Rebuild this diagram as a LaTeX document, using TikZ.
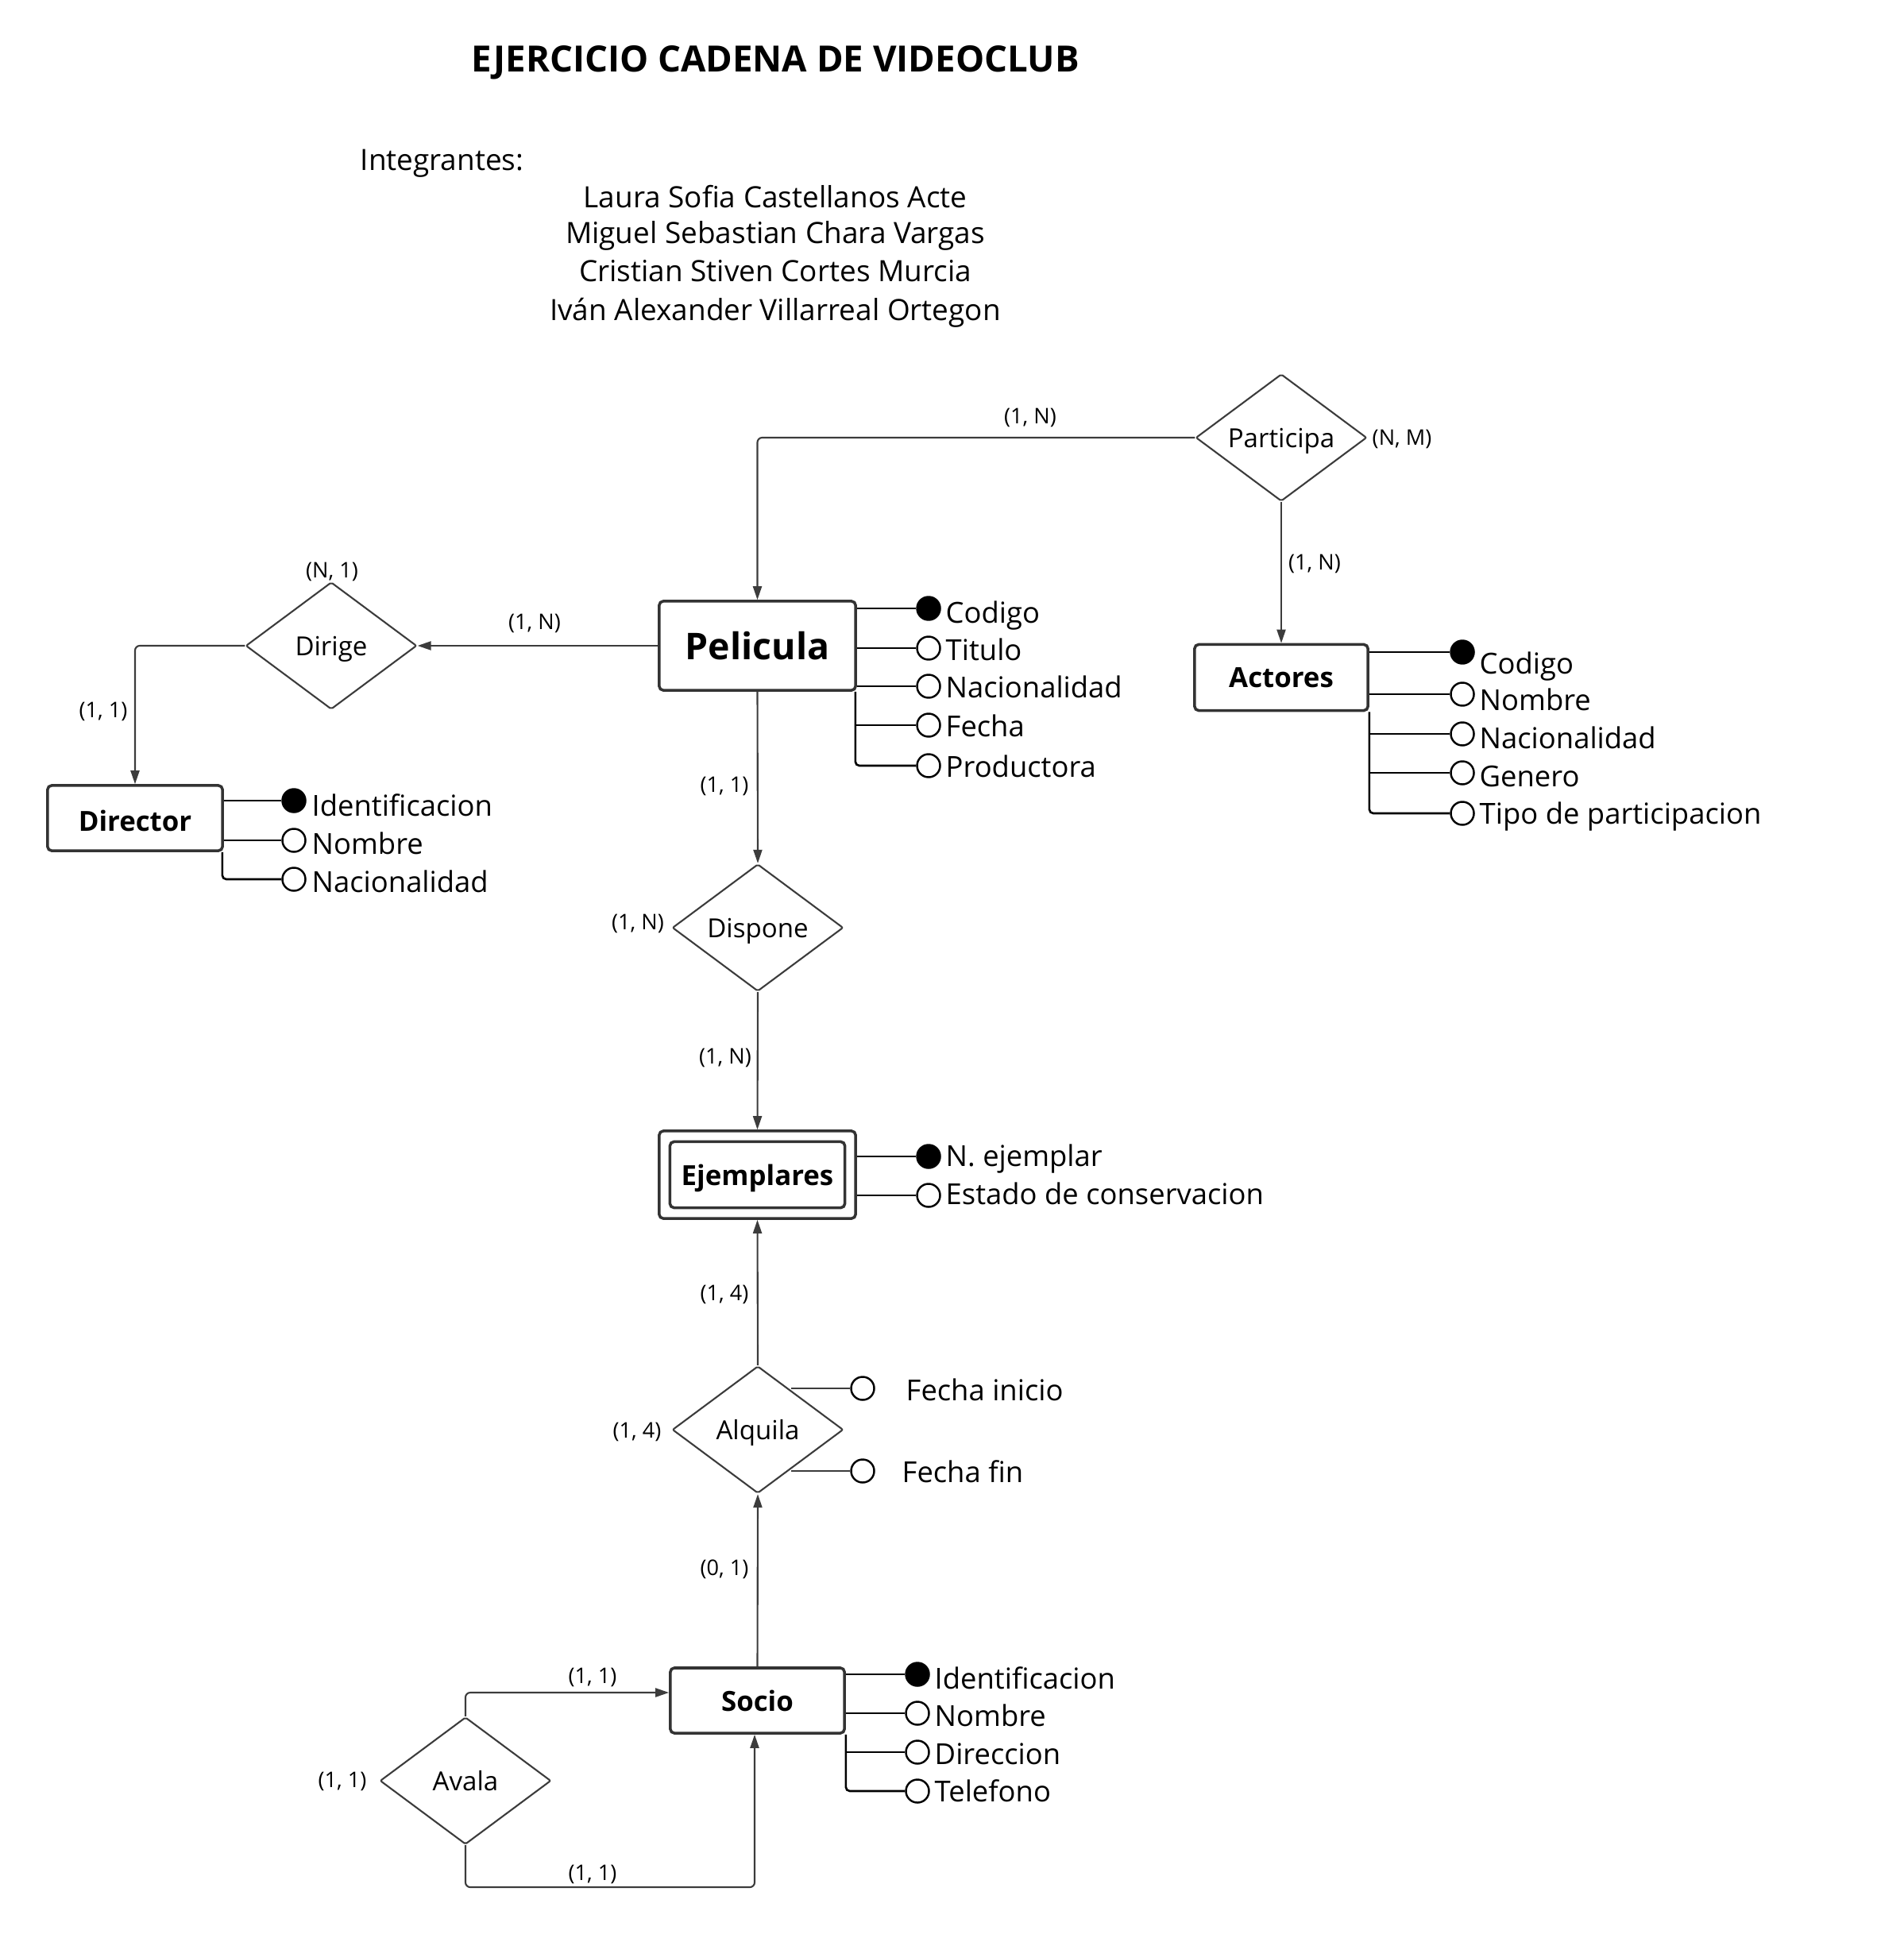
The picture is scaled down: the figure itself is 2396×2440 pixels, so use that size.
\documentclass[tikz,border=0pt]{standalone}
\usepackage{fontspec}
\setmainfont{Open Sans}
\usetikzlibrary{arrows.meta,shapes.geometric,calc}
\definecolor{ln}{HTML}{3C3C3C}
\definecolor{bx}{HTML}{333333}
\begin{document}
\begin{tikzpicture}[x=0.01cm,y=-0.01cm,
  ent/.style={draw=bx,line width=1pt,rounded corners=0.05cm,fill=white,font=\bfseries\fontsize{9.9pt}{12pt}\selectfont,inner sep=0pt,text depth=0pt},
  rel/.style={draw=ln,line width=0.6pt,shape=diamond,minimum width=2.15cm,minimum height=1.6cm,inner sep=0pt,font=\fontsize{9.4pt}{11pt}\selectfont,rounded corners=0.02cm,text depth=0pt},
  conn/.style={draw=ln,line width=0.6pt,rounded corners=0.06cm,-{Triangle[length=0.17cm,width=0.11cm]}},
  card/.style={font=\fontsize{7.7pt}{9pt}\selectfont,inner sep=0pt,text=black},
  attrtxt/.style={anchor=west,inner sep=0pt,font=\fontsize{10.35pt}{12pt}\selectfont,text height=7.5pt,text depth=0pt},
  key/.style={circle,draw=black,fill=black,line width=0.7pt,minimum size=0.29cm,inner sep=0pt},
  opt/.style={circle,draw=black,fill=white,line width=0.7pt,minimum size=0.29cm,inner sep=0pt},
  aline/.style={draw=black,line width=0.75pt},
  alinec/.style={draw=black,line width=0.75pt,rounded corners=0.05cm},
  plain/.style={inner sep=0pt,font=\fontsize{10.5pt}{12pt}\selectfont}
]
\useasboundingbox (0,0) rectangle (2396,2440);

% header
\node[inner sep=0pt,font=\bfseries\fontsize{12.95pt}{15pt}\selectfont] (title) at (976,79) {EJERCICIO CADENA DE VIDEOCLUB};
\node[plain,anchor=west] (integ) at (453,206) {Integrantes:};
\node[plain] (m1) at (976,248) {Laura Sofia Castellanos Acte};
\node[plain] (m2) at (976,297) {Miguel Sebastian Chara Vargas};
\node[plain] (m3) at (976,341) {Cristian Stiven Cortes Murcia};
\node[plain] (m4) at (976,394) {Iván Alexander Villarreal Ortegon};

% entities
\node[ent,minimum width=2.47cm,minimum height=1.12cm,font=\bfseries\fontsize{13.2pt}{15pt}\selectfont,text depth=] (pel) at (953.5,813) {Pelicula};
\node[ent,minimum width=2.18cm,minimum height=0.83cm] (act) at (1613,853) {Actores};
\node[ent,minimum width=2.20cm,minimum height=0.82cm] (dir) at (170,1030) {};
\node[inner sep=0pt,font=\bfseries\fontsize{9.9pt}{12pt}\selectfont] (dirt) at (170,1033) {Director};
\node[ent,minimum width=2.47cm,minimum height=1.10cm] (eje) at (953.5,1479) {};
\node[ent,minimum width=2.20cm,minimum height=0.83cm] (ejei) at (953.5,1479) {Ejemplares};
\node[ent,minimum width=2.19cm,minimum height=0.82cm] (soc) at (953.5,2141) {Socio};

% relationships
\node[rel] (par) at (1613,551) {Participa};
\node[rel] (dirg) at (417,813) {Dirige};
\node[rel] (disp) at (954,1168) {Dispone};
\node[rel] (alq) at (954,1800) {Alquila};
\node[rel] (ava) at (586,2242) {Avala};

% connectors
\draw[conn] (par.west) -| (pel.north);
\draw[conn] (par.south) -- (act.north);
\draw[conn] (pel.west) -- (dirg.east);
\draw[conn] (dirg.west) -| (dir.north);
\draw[conn] (pel.south) -- (disp.north);
\draw[conn] (disp.south) -- (eje.north);
\draw[conn] (alq.north) -- (eje.south);
\draw[conn] (soc.north) -- (alq.south);
\coordinate (avaT) at (587,2131);
\coordinate (avaB) at (950,2376);
\draw[conn] (ava.north) |- (soc.west |- avaT);
\draw[conn] (ava.south) |- (avaB) -- (avaB |- soc.south);

% cardinalities
\node[card] (c1) at (1297,526) {(1, N)};
\node[card] (c2) at (1765,553) {(N, M)};
\node[card] (c3) at (1655,710) {(1, N)};
\node[card] (c4) at (418,720) {(N, 1)};
\node[card] (c5) at (673,785) {(1, N)};
\node[card] (c6) at (130,896) {(1, 1)};
\node[card] (c7) at (912,990) {(1, 1)};
\node[card] (c8) at (803,1163) {(1, N)};
\node[card] (c9) at (913,1332) {(1, N)};
\node[card] (c10) at (912,1630) {(1, 4)};
\node[card] (c11) at (802,1803) {(1, 4)};
\node[card] (c12) at (912,1976) {(0, 1)};
\node[card] (c13) at (746,2112) {(1, 1)};
\node[card] (c14) at (431,2243) {(1, 1)};
\node[card] (c15) at (746,2360) {(1, 1)};

% Pelicula attributes
\node[key] (p1) at (1169,766) {};
\node[opt] (p2) at (1169,816) {};
\node[opt] (p3) at (1169,864) {};
\node[opt] (p4) at (1169,913) {};
\node[opt] (p5) at (1169,964) {};
\node[attrtxt] (tp1) at (1190,771) {Codigo};
\node[attrtxt] (tp2) at (1190,818) {Titulo};
\node[attrtxt] (tp3) at (1190,865) {Nacionalidad};
\node[attrtxt] (tp4) at (1190,914) {Fecha};
\node[attrtxt] (tp5) at (1190,965) {Productora};
\draw[aline] (pel.east |- p1) -- (p1.west);
\draw[aline] (pel.east |- p2) -- (p2.west);
\draw[aline] (pel.east |- p3) -- (p3.west);
\coordinate (pv) at ([xshift=-0.02cm]pel.south east);
\draw[aline] (pv |- p4) -- (p4.west);
\draw[alinec] (pv) |- (p5.west);

% Director attributes
\node[key] (d1) at (370,1008) {};
\node[opt] (d2) at (370,1058) {};
\node[opt] (d3) at (370,1107) {};
\node[attrtxt] (td1) at (392,1014) {Identificacion};
\node[attrtxt] (td2) at (392,1062) {Nombre};
\node[attrtxt] (td3) at (392,1110) {Nacionalidad};
\draw[aline] (dir.east |- d1) -- (d1.west);
\draw[aline] (dir.east |- d2) -- (d2.west);
\coordinate (dv) at ([xshift=-0.02cm]dir.south east);
\draw[alinec] (dv) |- (d3.west);

% Actores attributes
\node[key] (r1) at (1841,821) {};
\node[opt] (r2) at (1841,874) {};
\node[opt] (r3) at (1841,924) {};
\node[opt] (r4) at (1841,973) {};
\node[opt] (r5) at (1841,1024) {};
\node[attrtxt] (tr1) at (1862,835) {Codigo};
\node[attrtxt] (tr2) at (1862,881) {Nombre};
\node[attrtxt] (tr3) at (1862,929) {Nacionalidad};
\node[attrtxt] (tr4) at (1862,977) {Genero};
\node[attrtxt] (tr5) at (1862,1024) {Tipo de participacion};
\draw[aline] (act.east |- r1) -- (r1.west);
\draw[aline] (act.east |- r2) -- (r2.west);
\coordinate (av) at (act.south east);
\draw[aline] (av |- r3) -- (r3.west);
\draw[aline] (av |- r4) -- (r4.west);
\draw[alinec] (av) |- (r5.west);

% Ejemplares attributes
\node[key] (e1) at (1169,1456) {};
\node[opt] (e2) at (1169,1505) {};
\node[attrtxt] (te1) at (1190,1455) {N. ejemplar};
\node[attrtxt] (te2) at (1190,1503) {Estado de conservacion};
\draw[aline] (eje.east |- e1) -- (e1.west);
\draw[aline] (eje.east |- e2) -- (e2.west);

% Alquila attributes
\node[opt] (q1) at (1086,1748) {};
\node[opt] (q2) at (1086,1852) {};
\node[attrtxt] (tq1) at (1140,1750) {Fecha inicio};
\node[attrtxt] (tq2) at (1135,1853) {Fecha fin};
\coordinate (qa) at (996,1748);
\coordinate (qb) at (996,1852);
\draw[aline,ln] (qa) -- (q1.west);
\draw[aline,ln] (qb) -- (q2.west);

% Socio attributes
\node[key] (s1) at (1155,2108) {};
\node[opt] (s2) at (1155,2157) {};
\node[opt] (s3) at (1155,2206) {};
\node[opt] (s4) at (1155,2255) {};
\node[attrtxt] (ts1) at (1176,2113) {Identificacion};
\node[attrtxt] (ts2) at (1176,2160) {Nombre};
\node[attrtxt] (ts3) at (1176,2208) {Direccion};
\node[attrtxt] (ts4) at (1176,2255) {Telefono};
\draw[aline] (soc.east |- s1) -- (s1.west);
\draw[aline] (soc.east |- s2) -- (s2.west);
\coordinate (sv) at (soc.south east);
\draw[aline] (sv |- s3) -- (s3.west);
\draw[alinec] (sv) |- (s4.west);
\end{tikzpicture}
\end{document}
